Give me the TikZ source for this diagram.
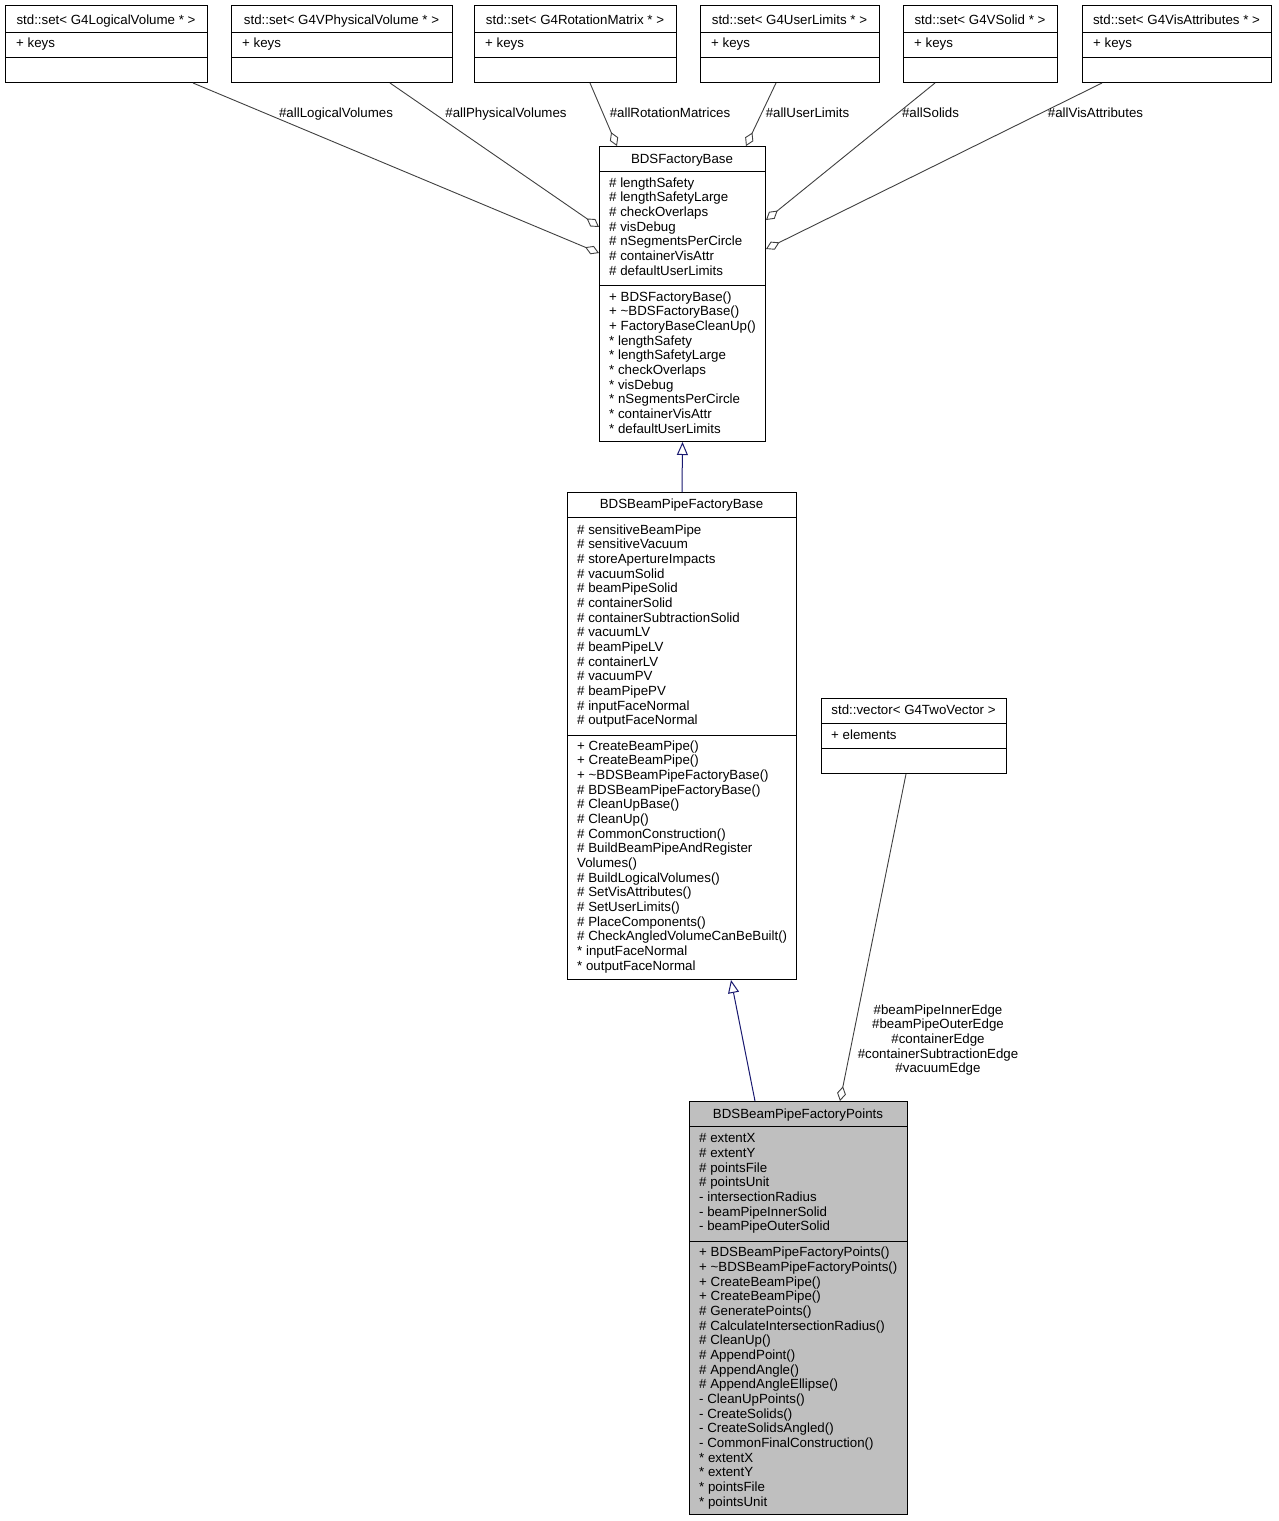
\documentclass[tikz,border=0pt]{standalone}
\usepackage{fontspec}
\setmainfont{Liberation Sans}
\usetikzlibrary{arrows.meta}
\definecolor{edgegray}{HTML}{404040}
\definecolor{inhblue}{HTML}{191970}
\definecolor{curgray}{HTML}{BFBFBF}
\newcommand\ff{\fontsize{13.3}{14.67}\selectfont}
\newcommand\fl{\rule{0pt}{10pt}}
\begin{document}
\begin{tikzpicture}[x=1pt,y=-1pt,
 cls/.style={draw=black, line width=1pt, anchor=north west, inner sep=0pt, fill=white},
 sep/.style={draw=black, line width=1pt},
 title/.style={font=\ff, anchor=base, inner sep=0pt},
 ln/.style={font=\ff, anchor=base west, inner sep=0pt},
 lines/.style={font=\ff, align=left, anchor=north west, inner sep=0pt},
 lbl/.style={font=\ff, align=center, anchor=north, inner sep=0pt},
 agg/.style={draw=edgegray, line width=0.9pt, -{Diamond[length=15pt,width=9pt,fill=white,line width=0.9pt]}},
 inh/.style={draw=inhblue, line width=1pt, -{Triangle[length=13pt,width=11pt,fill=white,line width=1pt]}},
]
\useasboundingbox[fill=white] (0,0) rectangle (1279,1521);

% ---- top std::set boxes
\node[cls, minimum width=202pt, minimum height=77pt] (s1) at (5,5) {};
\draw[sep] (5,32) -- (207,32) (5,57) -- (207,57);
\node[title] (s1t) at (106,24) {std::set< G4LogicalVolume * >};
\node[ln] (s1k) at (16,47) {+ keys};

\node[cls, minimum width=221pt, minimum height=77pt] (s2) at (231,5) {};
\draw[sep] (231,32) -- (452,32) (231,57) -- (452,57);
\node[title] (s2t) at (341.5,24) {std::set< G4VPhysicalVolume * >};
\node[ln] (s2k) at (242,47) {+ keys};

\node[cls, minimum width=202pt, minimum height=77pt] (s3) at (474,5) {};
\draw[sep] (474,32) -- (676,32) (474,57) -- (676,57);
\node[title] (s3t) at (575,24) {std::set< G4RotationMatrix * >};
\node[ln] (s3k) at (485,47) {+ keys};

\node[cls, minimum width=179pt, minimum height=77pt] (s4) at (700,5) {};
\draw[sep] (700,32) -- (879,32) (700,57) -- (879,57);
\node[title] (s4t) at (789.5,24) {std::set< G4UserLimits * >};
\node[ln] (s4k) at (711,47) {+ keys};

\node[cls, minimum width=154pt, minimum height=77pt] (s5) at (903,5) {};
\draw[sep] (903,32) -- (1057,32) (903,57) -- (1057,57);
\node[title] (s5t) at (980,24) {std::set< G4VSolid * >};
\node[ln] (s5k) at (914,47) {+ keys};

\node[cls, minimum width=189pt, minimum height=77pt] (s6) at (1082,5) {};
\draw[sep] (1082,32) -- (1271,32) (1082,57) -- (1271,57);
\node[title] (s6t) at (1176.5,24) {std::set< G4VisAttributes * >};
\node[ln] (s6k) at (1093,47) {+ keys};

% ---- BDSFactoryBase
\node[cls, minimum width=166pt, minimum height=295pt] (fb) at (599,146) {};
\draw[sep] (599,171) -- (765,171) (599,285) -- (765,285);
\node[title] (fbt) at (682,163) {BDSFactoryBase};
\node[lines] (fba) at (609,177) {\fl\# lengthSafety\\\# lengthSafetyLarge\\\# checkOverlaps\\\# visDebug\\\# nSegmentsPerCircle\\\# containerVisAttr\\\# defaultUserLimits};
\node[lines] (fbm) at (609,291) {\fl+ BDSFactoryBase()\\+ \textasciitilde{}BDSFactoryBase()\\+ FactoryBaseCleanUp()\\* lengthSafety\\* lengthSafetyLarge\\* checkOverlaps\\* visDebug\\* nSegmentsPerCircle\\* containerVisAttr\\* defaultUserLimits};

% ---- BDSBeamPipeFactoryBase
\node[cls, minimum width=229pt, minimum height=487pt] (bpb) at (567,492) {};
\draw[sep] (567,517) -- (796,517) (567,735) -- (796,735);
\node[title] (bpbt) at (681.5,508) {BDSBeamPipeFactoryBase};
\node[lines] (bpba) at (577,524) {\fl\# sensitiveBeamPipe\\\# sensitiveVacuum\\\# storeApertureImpacts\\\# vacuumSolid\\\# beamPipeSolid\\\# containerSolid\\\# containerSubtractionSolid\\\# vacuumLV\\\# beamPipeLV\\\# containerLV\\\# vacuumPV\\\# beamPipePV\\\# inputFaceNormal\\\# outputFaceNormal};
\node[lines] (bpbm) at (577,740) {\fl+ CreateBeamPipe()\\+ CreateBeamPipe()\\+ \textasciitilde{}BDSBeamPipeFactoryBase()\\\# BDSBeamPipeFactoryBase()\\\# CleanUpBase()\\\# CleanUp()\\\# CommonConstruction()\\\# BuildBeamPipeAndRegister\\Volumes()\\\# BuildLogicalVolumes()\\\# SetVisAttributes()\\\# SetUserLimits()\\\# PlaceComponents()\\\# CheckAngledVolumeCanBeBuilt()\\* inputFaceNormal\\* outputFaceNormal};

% ---- std::vector
\node[cls, minimum width=185pt, minimum height=75pt] (vec) at (821,698) {};
\draw[sep] (821,723) -- (1006,723) (821,748) -- (1006,748);
\node[title] (vect) at (913.5,714) {std::vector< G4TwoVector >};
\node[ln] (vece) at (831,739) {+ elements};

% ---- BDSBeamPipeFactoryPoints
\node[cls, fill=curgray, minimum width=218pt, minimum height=413pt] (pts) at (689,1101) {};
\draw[sep] (689,1126) -- (907,1126) (689,1241) -- (907,1241);
\node[title] (ptst) at (798,1118) {BDSBeamPipeFactoryPoints};
\node[lines] (ptsa) at (699,1132.5) {\fl\# extentX\\\# extentY\\\# pointsFile\\\# pointsUnit\\- intersectionRadius\\- beamPipeInnerSolid\\- beamPipeOuterSolid};
\node[lines] (ptsm) at (699,1246.5) {\fl+ BDSBeamPipeFactoryPoints()\\+ \textasciitilde{}BDSBeamPipeFactoryPoints()\\+ CreateBeamPipe()\\+ CreateBeamPipe()\\\# GeneratePoints()\\\# CalculateIntersectionRadius()\\\# CleanUp()\\\# AppendPoint()\\\# AppendAngle()\\\# AppendAngleEllipse()\\- CleanUpPoints()\\- CreateSolids()\\- CreateSolidsAngled()\\- CommonFinalConstruction()\\* extentX\\* extentY\\* pointsFile\\* pointsUnit};

% ---- connectors
\draw[agg] ([xshift=-15pt]s1.south east) -- ([yshift=-107pt]fb.north west);
\draw[agg] ([xshift=159pt]s2.south west) -- ([yshift=-81pt]fb.north west);
\draw[agg] ([xshift=116pt]s3.south west) -- ([xshift=18pt]fb.north west);
\draw[agg] ([xshift=76pt]s4.south west) -- ([xshift=147pt]fb.north west);
\draw[agg] ([xshift=32pt]s5.south west) -- ([yshift=-74pt]fb.north east);
\draw[agg] ([xshift=20pt]s6.south west) -- ([yshift=-103pt]fb.north east);
\draw[inh] (bpb.north) -- (fb.south);
\draw[inh] ([xshift=66pt]pts.north west) -- ([xshift=164pt]bpb.south west);
\draw[agg] ([xshift=85pt]vec.south west) -- ([xshift=151pt]pts.north west);

% ---- connector labels
\node[title] (l1) at (336,117) {\#allLogicalVolumes};
\node[title] (l2) at (506,117) {\#allPhysicalVolumes};
\node[title] (l3) at (670,117) {\#allRotationMatrices};
\node[title] (l4) at (807.5,117) {\#allUserLimits};
\node[title] (l5) at (930.5,117) {\#allSolids};
\node[title] (l6) at (1095.5,117) {\#allVisAttributes};
\node[lbl] (l7) at (938,1004) {\fl\#beamPipeInnerEdge\\\#beamPipeOuterEdge\\\#containerEdge\\\#containerSubtractionEdge\\\#vacuumEdge};
\end{tikzpicture}
\end{document}
